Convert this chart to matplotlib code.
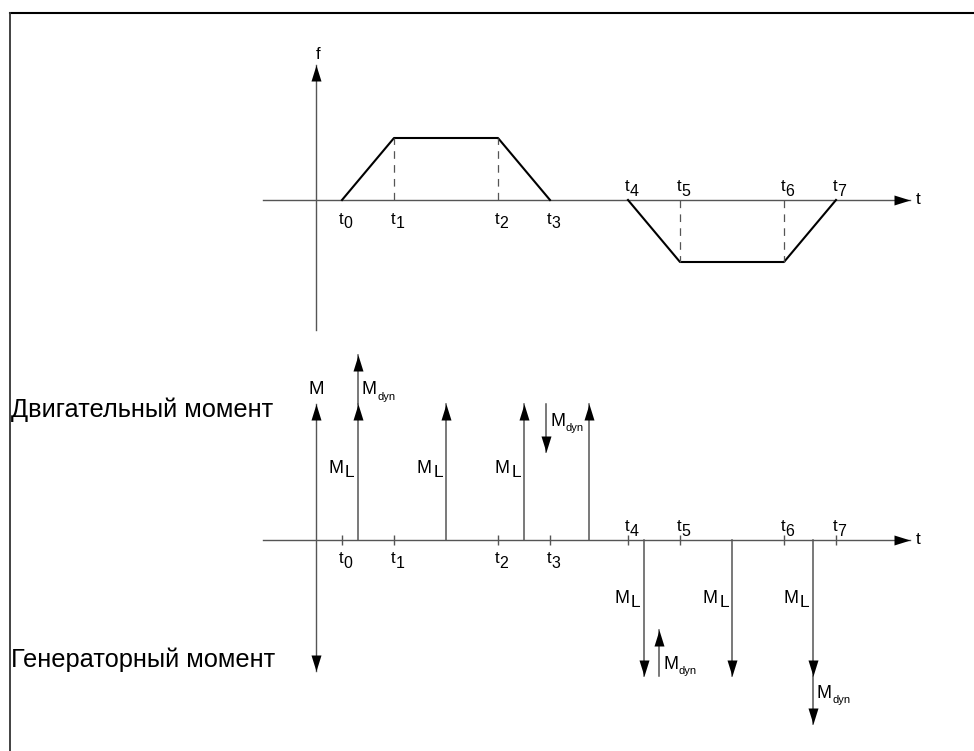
import matplotlib.pyplot as plt
from matplotlib.lines import Line2D
from matplotlib.path import Path

plt.rcParams['font.family'] = ['Liberation Sans', 'DejaVu Sans']
plt.rcParams['lines.scale_dashes'] = False

# ---- data ----
t_marks = [1, 3, 7, 9, 12, 14, 18, 20]          # t0 .. t7 on the time axis
t_subs = ['0', '1', '2', '3', '4', '5', '6', '7']
f_accel = [0, 1, 1, 0]                          # f at t0..t3
f_brake = [0, -1, -1, 0]                        # f at t4..t7

# load torque arrows M_L
ml_t = [1.6, 5, 8, 10.5, 12.6, 16, 19.1]
ml_val = [1, 1, 1, 1, -1, -1, -1]
ml_named = [True, True, True, False, True, True, True]

# dynamic torque arrows M_dyn
mdyn_t = [1.6, 8.85, 13.2, 19.1]
mdyn_base = [1, 1, -1, -1]
mdyn_val = [0.36, -0.35, 0.34, -0.35]

text_motor = 'Двигательный момент'
text_gen = 'Генераторный момент'

# ---- layout (pixels) ----
W, H = 974, 751
X0, XU = 316, 26          # t = 0 position, px per time unit
FY, FU = 200, 62          # f axis level, px per f unit
MY, MU = 540, 136         # M axis level, px per M unit
SPLIT = 340
PT = 0.72                 # points per pixel at dpi 100

GRAY = '#555555'


def head_marker(dx, dy):
    # filled arrow head, tip at (0, 0)
    px, py = -dy, dx
    verts = [(0, 0), (-16 * dx + 5 * px, -16 * dy + 5 * py),
             (-16 * dx - 5 * px, -16 * dy - 5 * py), (0, 0)]
    return Path(verts, closed=True)


HEADS = {'up': head_marker(0, 1), 'down': head_marker(0, -1),
         'right': head_marker(1, 0)}


def head(ax, x, y, d):
    ax.plot([x], [y], marker=HEADS[d], ms=32 * PT, color='black', mew=0,
            clip_on=False, zorder=4)


def sub_label(ax, x, y, main, sub, dx, dy, size, sub_size, sub_dy, ha='right'):
    t = ax.annotate(main, (x, y), xytext=(dx * PT, dy * PT), textcoords='offset points',
                    ha=ha, va='baseline', fontsize=size)
    ax.annotate(sub, (1, 0), xycoords=t, xytext=(0.3, sub_dy * PT),
                textcoords='offset points', ha='left', va='baseline', fontsize=sub_size)
    return t


fig = plt.figure(figsize=(W / 100, H / 100), dpi=100)
ax_f = fig.add_axes([0, 1 - SPLIT / H, 1, SPLIT / H])
ax_m = fig.add_axes([0, 0, 1, (H - SPLIT) / H])
for ax in (ax_f, ax_m):
    ax.set_xlim(-X0 / XU, (W - X0) / XU)
    ax.axis('off')
ax_f.set_ylim((FY - SPLIT) / FU, FY / FU)
ax_m.set_ylim(-(H - MY) / MU, (MY - SPLIT) / MU)

x_left, x_tip = -2.04, 22.85

# ---- frequency diagram ----
ax_f.plot([x_left, x_tip], [0, 0], color=GRAY, lw=1.0)
head(ax_f, x_tip, 0, 'right')
ax_f.plot([0, 0], [-2.1, 2.18], color=GRAY, lw=1.0)
head(ax_f, 0, 2.18, 'up')
ax_f.annotate('f', (0, 2.18), xytext=(2 * PT, 6 * PT), textcoords='offset points',
              ha='center', va='baseline', fontsize=12)
ax_f.annotate('t', (x_tip, 0), xytext=(6 * PT, 0), textcoords='offset points',
              ha='left', va='center', fontsize=12.5)

ax_f.plot(t_marks[:4], f_accel, color='black', lw=1.5)
ax_f.plot(t_marks[4:], f_brake, color='black', lw=1.5)
for tm, fv in zip(t_marks[:4] + t_marks[4:], f_accel + f_brake):
    if fv != 0:
        ax_f.plot([tm, tm], [0, fv], color=GRAY, lw=0.9, dashes=(5.5, 4.5))

for i, (tm, s) in enumerate(zip(t_marks, t_subs)):
    dy = -24 if i < 4 else 9
    sub_label(ax_f, tm, 0, 't', s, 1, dy, 12, 11.5, -1.5)

# ---- torque diagram ----
ax_m.plot([x_left, x_tip], [0, 0], color=GRAY, lw=1.0)
head(ax_m, x_tip, 0, 'right')
ax_m.annotate('t', (x_tip, 0), xytext=(6 * PT, 0), textcoords='offset points',
              ha='left', va='center', fontsize=12.5)
ax_m.vlines(t_marks, -0.034, 0.034, color=GRAY, lw=1.0)
for i, (tm, s) in enumerate(zip(t_marks, t_subs)):
    dy = -23 if i < 4 else 9
    sub_label(ax_m, tm, 0, 't', s, 1, dy, 12, 11.5, -1.5)

# M axis, arrow both ways
ax_m.plot([0, 0], [-0.96, 1.0], color=GRAY, lw=1.0)
head(ax_m, 0, 1.0, 'up')
head(ax_m, 0, -0.96, 'down')
ax_m.annotate('M', (0, 1.0), xytext=(0, 10 * PT), textcoords='offset points',
              ha='center', va='baseline', fontsize=13.5)

for x, v, named in zip(ml_t, ml_val, ml_named):
    ax_m.plot([x, x], [0, v], color=GRAY, lw=1.1)
    head(ax_m, x, v, 'up' if v > 0 else 'down')
    if named:
        dy = 63 if v > 0 else -67
        lt = ax_m.annotate('L', (x, 0), xytext=(-3 * PT, dy * PT), textcoords='offset points',
                           ha='right', va='baseline', fontsize=12.5)
        ax_m.annotate('M', (0, 0), xycoords=lt, xytext=(-1, 7 * PT),
                      textcoords='offset points', ha='right', va='baseline', fontsize=13)

for x, b, v in zip(mdyn_t, mdyn_base, mdyn_val):
    tip = b + v
    ax_m.plot([x, x], [b, tip], color=GRAY, lw=1.1)
    head(ax_m, x, tip, 'up' if v > 0 else 'down')
    dy = -39 if v > 0 else 26
    sub_label(ax_m, x, tip, 'M', 'dyn', 4, dy, 13, 8, -1.5, ha='left')

# side captions
fig.text(11 / W, 1 - 417 / H, text_motor, ha='left', va='baseline', fontsize=18.3)
fig.text(11 / W, 1 - 667 / H, text_gen, ha='left', va='baseline', fontsize=18.3)

# frame (top and left edges)
fig.add_artist(Line2D([9.5 / W, 1], [1 - 12.5 / H, 1 - 12.5 / H], color='black', lw=1.5))
fig.add_artist(Line2D([10 / W, 10 / W], [0, 1 - 12.5 / H], color='#333333', lw=1.3))

fig.savefig('out.png', dpi=100)
